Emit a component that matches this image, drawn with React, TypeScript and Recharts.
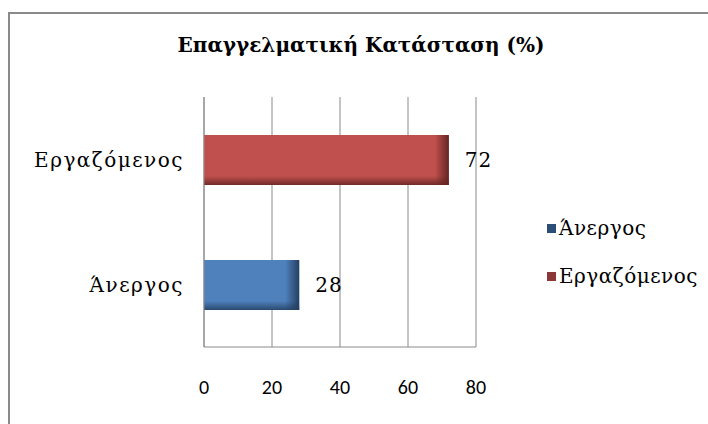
import React from 'react';
import { BarChart, Bar, XAxis, YAxis, CartesianGrid, Cell, LabelList, Legend } from 'recharts';

// categories top to bottom as in the picture
const categories = ['Εργαζόμενος', 'Άνεργος'];
const values = [72, 28];
const xTicks = [0, 20, 40, 60, 80];

// legend lists Άνεργος first
const legendNames = ['Άνεργος', 'Εργαζόμενος'];

const barColors: Record<string, string> = { 'Άνεργος': '#4F81BD', 'Εργαζόμενος': '#C0504D' };
const darkColors: Record<string, string> = { 'Άνεργος': '#243F60', 'Εργαζόμενος': '#632523' };
const legendColors: Record<string, string> = { 'Άνεργος': '#2C4D75', 'Εργαζόμενος': '#8C3836' };

const serif = '"DejaVu Serif", serif';
const sans = '"Liberation Sans Narrow", Carlito, "Open Sans", sans-serif';

const data = categories.map((c, i) => ({ name: c, value: values[i] }));

function ShadedBar(props: any) {
    const { x, y, width, height, index } = props;
    if (!width || !height) return null;
    const name = data[index].name;
    const fill = barColors[name];
    const dark = darkColors[name];
    const idR = `edgeR-${index}`;
    const idB = `edgeB-${index}`;
    const edge = Math.min(14, width / 3);
    return (
        <g>
            <defs>
                <linearGradient id={idR} x1="0" y1="0" x2="1" y2="0">
                    <stop offset="0%" stopColor={dark} stopOpacity={0} />
                    <stop offset="100%" stopColor={dark} stopOpacity={1} />
                </linearGradient>
                <linearGradient id={idB} x1="0" y1="0" x2="0" y2="1">
                    <stop offset="0%" stopColor={dark} stopOpacity={0} />
                    <stop offset="100%" stopColor={dark} stopOpacity={0.85} />
                </linearGradient>
            </defs>
            <rect x={x} y={y} width={width} height={height} fill={fill} />
            <rect x={x} y={y + height - 9} width={width} height={9} fill={`url(#${idB})`} />
            <rect x={x + width - edge} y={y} width={edge} height={height} fill={`url(#${idR})`} />
        </g>
    );
}

function LegendBox() {
    return (
        <div style={{ fontFamily: serif, fontSize: 20, letterSpacing: 0.5, color: '#000' }}>
            {legendNames.map((n) => (
                <div key={n} style={{ display: 'flex', alignItems: 'center', height: 48 }}>
                    <span style={{ display: 'inline-block', width: 9, height: 9, background: legendColors[n], marginRight: 3 }} />
                    <span>{n}</span>
                </div>
            ))}
        </div>
    );
}

export default function App() {
    return (
        <div style={{ position: 'absolute', left: 0, top: 0, width: 708, height: 424, background: '#fff', overflow: 'hidden' }}>
            <div style={{ position: 'absolute', left: 8, top: 12, width: 700, height: 412, borderTop: '2px solid #8a8a8a', borderLeft: '2px solid #8a8a8a' }} />
            <div style={{ position: 'absolute', left: 0, width: 722, top: 33, textAlign: 'center', fontFamily: serif, fontWeight: 'bold', fontSize: 20, color: '#000' }}>
                Επαγγελματική Κατάσταση (%)
            </div>
            <BarChart
                width={708}
                height={424}
                data={data}
                layout="vertical"
                margin={{ top: 97, right: 68, bottom: 17, left: 14 }}
                style={{ position: 'absolute', left: 0, top: 0 }}
            >
                <CartesianGrid horizontal={false} stroke="#8a8a8a" />
                <XAxis
                    type="number"
                    domain={[0, 80]}
                    ticks={xTicks}
                    height={60}
                    axisLine={{ stroke: '#8a8a8a' }}
                    tickLine={false}
                    tickSize={0}
                    tickMargin={33}
                    tick={{ fontFamily: sans, fontSize: 20, fill: '#000' }}
                />
                <YAxis
                    type="category"
                    dataKey="name"
                    width={190}
                    axisLine={{ stroke: '#8a8a8a' }}
                    tickLine={false}
                    tickSize={0}
                    tickMargin={20}
                    tick={{ fontFamily: serif, fontSize: 20, fill: '#000', letterSpacing: 1.5 }}
                />
                <Legend
                    layout="vertical"
                    align="right"
                    verticalAlign="top"
                    wrapperStyle={{ left: 547, top: 204, width: 164 }}
                    content={() => <LegendBox />}
                />
                <Bar dataKey="value" barSize={50} shape={<ShadedBar />} isAnimationActive={false}>
                    {data.map((d, i) => (
                        <Cell key={`cell-${i}`} fill={barColors[d.name]} />
                    ))}
                    <LabelList
                        dataKey="value"
                        position="right"
                        offset={16}
                        style={{ fontFamily: serif, fontSize: 20, fill: '#000', letterSpacing: 1 }}
                    />
                </Bar>
            </BarChart>
        </div>
    );
}
